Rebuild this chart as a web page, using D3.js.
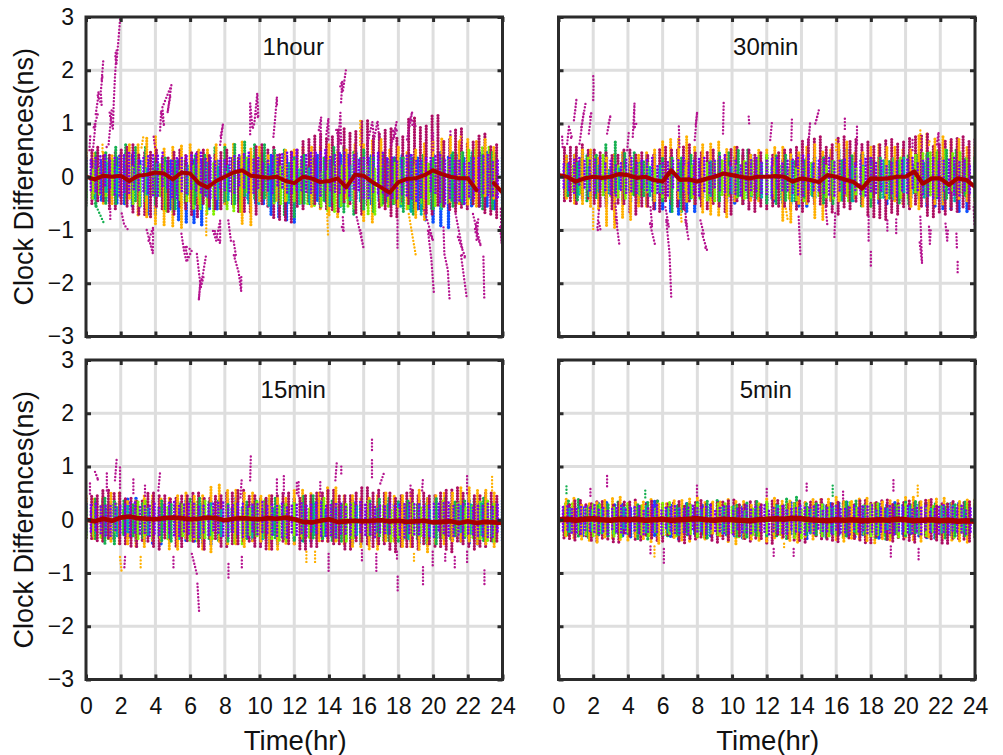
<!DOCTYPE html>
<html>
<head>
<meta charset="utf-8">
<script src="https://cdn.jsdelivr.net/npm/d3@7"></script>
<style>
body { margin: 0; background: #fff; }
svg { display: block; font-family: "Liberation Sans", Arial, sans-serif; }
</style>
</head>
<body>
<div id="chart"></div>
<script>
// values, in ns. the dots are too dense to read one by one, so
// cloud series run evenly over 0-24 hr and neighbouring values give the extent of the streak at that time
const titles = ["1hour", "30min", "15min", "5min"];
const hourTicks = [0, 2, 4, 6, 8, 10, 12, 14, 16, 18, 20, 22, 24];
const nsTicks = [-3, -2, -1, 0, 1, 2, 3];
const seriesColors = ["#ad0a62", "#ffb000", "#0a50ff", "#14b050", "#00b0b0", "#80f000", "#7f00f0"];

// 1hour
const crimson1 = [.45,-.5,.55,-.45,.4,-.6,.5,-.55,.6,-.7,.45,-.75,.5,-.6,.35,-.7,.5,-.6,.45,-.75,.5,-.55,.4,-.6,.5,-.5,.35,-.65,.45,-.7,.6,-.55,.55,-.8,.45,-.85,.5,-.6,.7,-.5,.8,-.6,.75,-.65,.9,-.5,.85,-.7,1.05,-.55,.8,-.6,.9,-.75,.75,-.5,1.1,-.6,.95,-.7,1.15,-.55,.7,-.65,.9,-.6,.65,-.55,.8,-.7,.6,-.8,.75];
const orange1 = [.5,-.3,.45,-.5,.4,-.4,.6,-.75,.75,-.9,.55,-.95,.6,-.5,.5,-.4,.6,-.55,.65,-.9,.55,-.5,.4,-.45,.5,-.4,.55,-.6,.6,-.75,.5,-.4,.6,-.85,.7,-.5,.55,-.6,.5,-.8,.65,-.45,.75,-.5,.7,-.55,.7,-.4,.55,-.5];
const blue1 = [.35,-.4,.3,-.45,.35,-.5,.4,-.55,.3,-.7,.35,-.6,.3,-.85,.3,-.9,.35,-.6,.3,-.5,.35,-.4,.3,-.5,.4,-.75,.35,-.85,.3,-.5,.4,-.45,.35,-.55,.4,-.4,.45,-.5,.4,-.45,.35,-.5,.4,-.6,.35,-.85,.45,-.95,.4,-.5,.35,-.55,.45,-.6,.35,-.5];
const green1 = [.3,-.55,.45,-.5,.6,-.45,.55,-.5,.35,-.6,.3,-.5,.4,-.35,.55,-.5,.65,-.4,.6,-.45,.5,-.75,.4,-.5,.35,-.45,.55,-.7,.5,-.65,.4,-.5,.35,-.7,.4,-.6,.35,-.55,.45,-.5,.4,-.6,.5,-.65];
const teal1 = [.2,-.4,.25,-.3,.2,-.4,.15,-.35,.25,-.3,.2,-.35,.25,-.4,.2,-.45,.3,-.5,.2,-.55,.25,-.5,.15,-.5,.3,-.55,.2,-.45,.35,-.4,.3,-.55,.35,-.7,.25,-.6,.4,-.45,.45,-.35,.4,-.5,.35];
const lime1 = [.2,-.4,.15,-.35,.3,-.35,.4,-.5,.2,-.55,.15,-.35,.25,-.65,.1,-.45,.2,-.6,.15,-.7,.25,-.6,.1,-.65,.35,-.3,.4,-.35,.3,-.5,.2,-.45,.3,-.5,.2,-.55,.1,-.65,.2,-.55,.15,-.6,.2,-.7,.15,-.55,.25,-.5,.15,-.6,.2,-.5,.25,-.55,.3,-.5,.45,-.4,.5,-.35,.55,-.3,.45,-.3];
const purple1 = [.3,-.25,.35,-.3,.4,-.2,.35,-.35,.4,-.3,.45,-.25,.35,-.3,.4,-.35,.45,-.2,.3,-.4,.35,-.3,.4,-.25,.45,-.35,.35,-.4,.3,-.25,.35,-.3,.4,-.2,.45,-.3,.35,-.25,.3,-.3,.4,-.2,.45,-.3,.5,-.25,.4,-.3,.45,-.35,.5,-.25,.4,-.3,.45,-.35,.4,-.25,.35,-.4,.4,-.3,.45,-.35,.35,-.4,.3,-.35,.4,-.45,.3,-.4,.35,-.3,.4,-.5,.35,-.45,.3,-.5,.25,-.4,.35,-.3,.4,-.35,.3,-.4,.35];
const mean1 = [0,-.05,.02,0,.02,-.08,.02,.04,.08,.06,-.05,.08,.06,-.12,-.2,-.08,0,.08,.12,.02,0,-.02,0,-.08,-.12,0,-.03,-.1,-.08,-.03,-.2,.04,.02,-.1,-.2,-.3,-.1,-.04,-.03,.03,.12,.05,0,-.03,-.03,-.25,null,-.12,-.3];

// 30min
const crimson2 = [.45,-.45,.55,-.5,.6,-.4,.5,-.55,.45,-.6,.4,-.5,.5,-.7,.45,-.55,.4,-.65,.55,-.5,.5,-.6,.6,-.5,.45,-.6,.5,-.55,.4,-.7,.55,-.5,.5,-.65,.45,-.6,.4,-.55,.5,-.6,.55,-.65,.7,-.5,.75,-.55,.6,-.7,.75,-.6,.7,-.5,.65,-.75,.6,-.8,.7,-.7,.65,-.6,.75,-.55,.8,-.75,.6,-.7,.7,-.65,.75,-.6,.7,-.55];
const orange2 = [.45,-.4,.4,-.5,.5,-.6,.35,-.95,.45,-.8,.4,-.55,.5,-.45,.7,-.4,.75,-.5,.6,-.7,.65,-.75,.55,-.5,.4,-.45,.5,-.4,.55,-.85,.45,-.5,.6,-.8,.5,-.45,.65,-.4,.45,-.55,.6,-.4,.55,-.5,.5,-.6,.8,-.5,.75,-.55,.7,-.45,.55,-.5];
const blue2 = [.3,-.35,.4,-.4,.45,-.4,.35,-.5,.4,-.45,.3,-.5,.4,-.6,.35,-.7,.3,-.65,.35,-.4,.3,-.45,.35,-.5,.4,-.4,.35,-.45,.3,-.5,.4,-.55,.35,-.4,.4,-.45,.5,-.35,.4,-.4,.35,-.5,.3,-.45,.35,-.4,.4,-.55,.35,-.6,.3,-.65,.35,-.4];
const green2 = [.3,-.35,.25,-.45,.4,-.4,.65,-.3,.45,-.35,.3,-.45,.35,-.65,.4,-.4,.3,-.45,.45,-.35,.5,-.4,.35,-.5,.4,-.45,.3,-.4,.35,-.5,.3,-.45,.4,-.55,.35,-.4,.3,-.5,.4,-.35,.45,-.4,.5,-.35,.35,-.45];
const teal2 = [.2,-.3,.25,-.35,.2,-.3,.15,-.25,.25,-.35,.2,-.3,.25,-.4,.2,-.35,.3,-.3,.2,-.35,.25,-.4,.2,-.45,.3,-.35,.25,-.3,.3,-.45,.2,-.35,.3,-.4,.35,-.3,.25,-.4,.3,-.45,.25,-.35,.3];
const lime2 = [.15,-.35,.2,-.3,.35,-.25,.4,-.35,.2,-.4,.15,-.35,.25,-.3,.15,-.4,.3,-.25,.2,-.4,.25,-.45,.3,-.35,.2,-.4,.3,-.35,.4,-.3,.2,-.4,.15,-.45,.25,-.35,.2,-.4,.3,-.45,.15,-.35,.2,-.4,.3,-.35,.35,-.4,.4,-.3,.45,-.35,.5,-.25,.45,-.3,.35,-.35];
const purple2 = [.3,-.2,.25,-.3,.35,-.2,.3,-.3,.35,-.25,.3,-.35,.25,-.3,.35,-.3,.3,-.25,.35,-.3,.25,-.35,.3,-.25,.35,-.3,.3,-.35,.35,-.3,.3,-.25,.4,-.3,.3,-.35,.25,-.25,.35,-.3,.3,-.35,.35,-.25,.3,-.3,.35,-.35,.4,-.25,.3,-.3,.35,-.35,.3,-.3,.35,-.25,.3,-.35,.35,-.3,.3,-.3,.25,-.35,.3,-.3,.35,-.25,.3,-.35,.35,-.4,.3,-.3,.35,-.35,.3,-.3,.25,-.35];
const mean2 = [.03,0,-.09,-.03,0,-.02,0,.05,.03,-.02,0,-.06,-.09,.12,-.06,-.05,-.09,-.04,0,.06,.03,0,-.03,0,0,.01,0,-.09,-.03,-.06,-.1,.03,0,-.05,-.1,-.22,-.03,-.04,-.03,0,0,.1,-.13,-.03,-.03,-.15,-.03,-.06,-.19];

// 15min
const crimson3 = [.4,-.35,.45,-.4,.55,-.35,.5,-.45,.4,-.5,.35,-.4,.5,-.55,.45,-.35,.4,-.5,.45,-.4,.5,-.55,.4,-.35,.45,-.5,.5,-.45,.55,-.4,.45,-.5,.4,-.55,.45,-.4,.5,-.45,.4,-.55,.45,-.5,.5,-.4,.55,-.45,.45,-.55,.5,-.4,.6,-.5,.55,-.45,.5,-.6,.45,-.5,.55,-.55,.5,-.45,.45,-.5,.55,-.6,.6,-.45,.5,-.55,.45,-.5,.5,-.4,.45,-.55];
const orange3 = [.45,-.35,.4,-.4,.5,-.45,.35,-.5,.45,-.4,.4,-.55,.5,-.35,.45,-.6,.65,-.45,.55,-.5,.5,-.4,.45,-.55,.4,-.45,.55,-.35,.5,-.4,.6,-.45,.45,-.5,.4,-.55,.5,-.4,.45,-.5,.55,-.6,.45,-.45,.5,-.4,.6,-.45,.55,-.5,.5,-.55];
const blue3 = [.3,-.3,.35,-.35,.3,-.3,.4,-.4,.35,-.45,.3,-.35,.35,-.4,.3,-.45,.35,-.35,.4,-.3,.3,-.4,.35,-.45,.3,-.35,.4,-.4,.35,-.3,.3,-.35,.35,-.45,.3,-.4,.35,-.35,.3,-.4,.35,-.45,.4,-.35,.3,-.4,.35,-.45,.3,-.35,.35,-.4];
const green3 = [.3,-.35,.4,-.45,.35,-.3,.3,-.35,.35,-.4,.3,-.3,.4,-.35,.35,-.4,.3,-.35,.35,-.3,.4,-.35,.3,-.4,.45,-.35,.35,-.4,.3,-.35,.35,-.3,.4,-.4,.35,-.35,.3,-.45,.4,-.3,.35,-.35,.4,-.4,.3,-.35];
const teal3 = [.25,-.25,.2,-.3,.25,-.25,.2,-.3,.25,-.35,.2,-.25,.3,-.3,.2,-.25,.25,-.35,.2,-.3,.25,-.25,.3,-.3,.2,-.35,.25,-.3,.2,-.25,.3,-.35,.25,-.3,.2,-.35,.25,-.25,.3,-.3,.2,-.35];
const lime3 = [.2,-.3,.25,-.35,.3,-.25,.2,-.35,.35,-.3,.2,-.35,.25,-.3,.3,-.4,.35,-.35,.25,-.3,.3,-.45,.2,-.3,.35,-.35,.25,-.4,.3,-.3,.2,-.35,.4,-.3,.25,-.4,.3,-.35,.35,-.3,.25,-.4,.2,-.35,.3,-.3,.25,-.4,.35,-.35,.3,-.3,.25,-.35,.35,-.4,.3,-.3];
const purple3 = [.28,-.22,.3,-.25,.26,-.3,.3,-.24,.28,-.3,.32,-.26,.25,-.3,.3,-.28,.27,-.24,.33,-.3,.28,-.26,.3,-.32,.26,-.28,.3,-.24,.32,-.3,.27,-.26,.3,-.32,.28,-.27,.33,-.24,.28,-.3,.3,-.33,.26,-.28,.31,-.3,.28,-.24,.32,-.3,.27,-.33,.3,-.26,.28,-.3,.33,-.28,.29,-.32,.26,-.25,.3,-.3,.28,-.33,.31,-.27,.29,-.3,.26,-.32,.3,-.25,.32,-.3,.28,-.33,.3,-.27,.26,-.3,.3,-.32,.28,-.26,.3];
const mean3 = [0,-.03,.02,-.02,.04,.06,.03,.02,.01,.03,.04,.03,.01,.02,.04,.03,-.01,.02,.03,.02,.01,.03,.02,.04,.01,-.04,-.05,-.02,.01,-.04,-.03,-.02,-.03,-.02,-.01,-.03,-.02,-.04,-.03,-.02,-.05,-.04,-.03,-.06,-.03,-.06,-.04,-.05,-.06];

// 5min
const crimson4 = [.32,-.34,.28,-.38,.36,-.3,.3,-.4,.34,-.36,.27,-.42,.33,-.3,.37,-.38,.29,-.34,.35,-.4,.3,-.32,.34,-.43,.28,-.36,.36,-.34,.3,-.42,.33,-.38,.37,-.3,.28,-.4,.34,-.35,.3,-.44,.36,-.32,.29,-.38,.35,-.42,.33,-.3,.38,-.36,.3,-.41,.34,-.34,.28,-.38,.36,-.43,.32,-.33,.37,-.4,.3,-.36,.35,-.42,.33,-.32,.38,-.38,.3,-.44,.34,-.35,.32,-.4,.36,-.37];
const orange4 = [.34,-.3,.4,-.36,.3,-.42,.36,-.34,.42,-.38,.32,-.35,.38,-.44,.3,-.33,.36,-.4,.41,-.36,.33,-.3,.38,-.45,.34,-.36,.3,-.4,.4,-.34,.35,-.42,.32,-.36,.38,-.3,.42,-.4,.34,-.35,.4,-.43,.33,-.38,.36,-.32,.42,-.4,.36,-.35,.4,-.38,.34,-.42,.38,-.34];
const blue4 = [.26,-.26,.3,-.3,.24,-.28,.32,-.25,.28,-.32,.25,-.27,.34,-.3,.27,-.36,.3,-.26,.26,-.3,.33,-.28,.28,-.34,.24,-.27,.3,-.3,.27,-.26,.32,-.35,.26,-.3,.3,-.27,.33,-.32,.25,-.28,.29,-.36,.32,-.26,.27,-.3,.3,-.34,.26,-.28,.31,-.3,.28,-.26];
const green4 = [.3,-.28,.38,-.33,.26,-.3,.33,-.26,.28,-.36,.35,-.3,.26,-.28,.32,-.34,.36,-.28,.27,-.32,.34,-.3,.28,-.35,.42,-.28,.3,-.33,.26,-.3,.35,-.27,.3,-.36,.27,-.3,.34,-.28,.3,-.34,.28,-.3,.36,-.33];
const teal4 = [.2,-.22,.24,-.2,.18,-.25,.22,-.2,.25,-.24,.2,-.27,.23,-.2,.18,-.25,.24,-.22,.2,-.26,.26,-.2,.22,-.24,.19,-.25,.23,-.21,.25,-.26,.2,-.22,.24,-.27,.2,-.23,.25,-.2,.22,-.25];
const lime4 = [.24,-.28,.3,-.24,.2,-.3,.28,-.26,.22,-.32,.3,-.25,.26,-.3,.2,-.27,.32,-.3,.25,-.26,.28,-.33,.22,-.28,.3,-.24,.26,-.32,.2,-.3,.33,-.26,.25,-.28,.3,-.34,.22,-.25,.28,-.3,.24,-.33,.32,-.26,.26,-.3,.3,-.28,.22,-.32,.28,-.25,.32,-.3,.25,-.27,.3,-.33,.24,-.28,.3,-.3];
const purple4 = [.22,-.2,.25,-.24,.2,-.26,.24,-.21,.27,-.25,.22,-.27,.2,-.22,.26,-.25,.23,-.2,.25,-.27,.21,-.23,.27,-.26,.22,-.2,.25,-.25,.2,-.27,.26,-.22,.23,-.26,.27,-.21,.22,-.25,.25,-.27,.2,-.23,.26,-.25,.24,-.2,.27,-.27,.22,-.24,.25,-.26,.2,-.22,.26,-.27,.23,-.25,.27,-.21,.22,-.26,.25,-.24,.2,-.27,.26,-.22,.24,-.25,.27,-.26,.21,-.23,.25,-.27,.23,-.21,.26,-.25,.22,-.27,.25,-.23,.2,-.26,.27,-.24,.23,-.22,.26,-.26,.21,-.25,.25];
const mean4 = [0,.01,-.01,.01,.02,0,-.01,.01,0,.01,-.01,0,.01,-.01,0,.01,.02,0,-.01,.01,0,-.01,-.02,0,.01,.02,.01,.03,.02,0,-.01,-.02,0,-.01,0,-.02,-.01,0,-.01,.01,0,-.02,-.01,0,-.02,-.01,-.03,-.02,-.03];

// excursions away from the main cloud, [hr, ns] along each run
const magenta1 = [
  [[.2,.5],[.25,.8]], [[.4,.5],[.55,1],[.42,.9],[.7,1.2],[.55,1.15],[.75,1.6],[.65,1.55],[.9,1.35],[.85,1.6],[.95,1.9],[.9,1.8],[1,2.2]], [[1.19,.56],[1.3,.6],[1.48,1.25],[1.35,1.2],[1.55,.9],[1.6,1.4],[1.67,1.88],[1.77,2.38],[1.68,2.3],[1.75,2.1],[1.96,2.94],[2,3.1]],
  [[4.27,.87],[4.33,1.24],[4.5,.95],[4.4,1.3],[4.92,1.72],[4.7,1.2],[4.85,1.5]], [[3.9,.75],[4,.5]], [[7.73,.6],[7.9,1],[7.75,.75]], [[9.46,.8],[9.46,1.38],[9.6,.9],[9.7,1],[9.87,1.57],[9.93,1.1],[9.8,1.2]], [[10.8,.75],[10.9,1.1],[11,1.5],[11,1.35]],
  [[13.5,.6],[13.55,1.12],[13.4,.85]], [[13.97,.7],[13.97,1.1],[13.85,.8]], [[14.5,.5],[14.66,1.2],[14.7,.6],[14.4,.9]], [[14.7,1.4],[14.77,1.8],[14.65,1.7],[14.8,1.6],[15,2.06]], [[16.2,.6],[16.5,1.03],[16.6,.7],[16.8,1.05],[16.9,.7]], [[17.6,.6],[17.9,1.03],[17.7,.7],[17.95,.9],[17.6,.85]], [[18.5,.7],[18.8,1.22],[18.6,1],[19,.95],[18.7,1.1]], [[20,.5],[20,.85],[19.9,.7]], [[21,.85],[21,.75]],
  [[1.4,-.6],[1.4,-.85]], [[2.06,-.69],[2.2,-.9],[2.43,-1]], [[3.5,-1],[3.85,-1.44],[3.87,-.95],[3.6,-1.2],[3.8,-1.3]], [[5.5,-1.07],[5.65,-1.4],[5.8,-1.6],[6.1,-1.38],[5.7,-1.3],[5.9,-1.55]],
  [[6.39,-1.45],[6.58,-2],[6.5,-2.32],[6.6,-1.95],[6.77,-1.88],[6.6,-2.1],[6.93,-1.45]], [[7.44,-1.07],[7.73,-1.25],[7.73,-.82],[7.5,-1.2],[7.3,-1],[7.6,-1.05]], [[8.2,-.82],[8.35,-1.2],[8.5,-1.2],[8.65,-1.5],[8.5,-1.45],[8.8,-1.8],[8.94,-2.15],[8.95,-1.85]],
  [[14.8,-.76],[14.85,-1.04],[14.7,-.9]], [[15.6,-.76],[16,-1.35],[15.8,-1],[15.9,-1.1]], [[17.95,-.82],[17.95,-1.38]], [[19.5,-.63],[20,-1.2],[19.7,-1],[19.9,-1.55],[20.05,-2.2]], [[20.6,-.95],[20.65,-1.45],[20.85,-1.75],[20.95,-2.3]], [[21.3,-.7],[21.7,-1.38],[21.4,-1.1],[21.87,-1.53],[21.6,-1.45],[21.93,-2.25]], [[22.3,-.7],[22.75,-1.3],[22.4,-1],[22.6,-.8],[22.5,-1.2]], [[22.9,-1.5],[22.95,-2.28]], [[23.9,-.6],[23.95,-1.25],[23.85,-.9]]
];
const amber1 = [[[.95,.6],[.95,.45]], [[3.2,.55],[3.3,.75]], [[6.93,-.65],[6.93,-1.1]], [[13.9,-.7],[13.95,-1.13]], [[15.8,.6],[15.8,1.1]], [[18.6,-.7],[19,-1.47]], [[21.5,.5],[21.6,.8]]];
const emerald1 = [[[.52,-.5],[1.04,-.88]]];
const magenta2 = [
  [[.21,.75],[.25,.5]], [[.5,.62],[.6,.94],[.79,.72],[.65,.75]], [[.89,1.06],[1.04,1.47],[.95,1.2]], [[1.21,.62],[1.46,1.22],[1.3,.9],[1.56,1.38]], [[1.75,.81],[1.9,1.22],[1.8,1.1]], [[2,1.44],[2.02,1.72],[2,1.91]],
  [[2.33,-.63],[2.23,-1],[2.42,-1],[2.3,-.8]], [[2.8,.81],[3,1.16],[2.85,.95]], [[3.28,-.5],[3.38,-.88],[3.3,-.75],[3.5,-1.26]], [[3.96,.5],[4.05,.84]], [[4.28,.75],[4.38,1.38],[4.35,.9],[4.53,1.03]], [[5.3,-.57],[5.4,-.94],[5.25,-.85],[5.55,-1.26]],
  [[6.16,-.57],[6.36,-.94],[6.2,-.8],[6.4,-1.44],[6.5,-2.3]], [[6.97,.56],[6.93,1]], [[7.22,-.44],[7.41,-.94],[7.3,-.8],[7.5,-1.19]], [[7.85,.69],[7.99,1.22],[7.9,.95]], [[8.18,-.82],[8.37,-1.07],[8.25,-1.05],[8.56,-1.38],[8.4,-1.3]], [[9.48,.81],[9.52,1.41]], [[10.96,1.13],[11,.94]],
  [[12.2,.69],[12.3,1.03]], [[13.42,.69],[13.45,1.09]], [[14.4,.62],[14.5,1.03],[14.45,.8]], [[14.8,1],[15,1.25],[14.85,1.05]], [[13.84,-.75],[13.94,-1.48]], [[15.4,-.57],[15.5,-.94]], [[15.9,-1.13],[15.95,-.63]], [[16.5,1.09],[16.5,.87]], [[17.2,.62],[17.2,.94]],
  [[17.87,-.75],[17.87,-1.22]], [[18,-1.41],[18,-1.7]], [[18.95,-.82],[18.95,-1.07]], [[19.46,-.8],[19.46,-1.07]], [[20.85,-.75],[20.95,-1.63],[20.8,-1.2]], [[21.35,-.94],[21.4,-1.26],[21.45,-1]], [[22.3,-.88],[22.4,-1.2],[22.45,-.95]], [[22.93,-1.07],[22.96,-1.38]], [[23,-1.6],[23,-1.85]], [[23.92,-.57],[23.97,-.91]], [[20.4,.5],[20.4,.7]], [[21.9,.5],[21.9,.84],[21.8,.6]]
];
const amber2 = [[[2,-.6],[2,-1]], [[3.2,-.65],[3.25,-.88]], [[7.05,-.65],[7.1,-.9]], [[13.1,-.6],[13.2,-.8]], [[20.85,.55],[20.85,.9]], [[21.35,.6],[21.4,.72]], [[16,.5],[16,.72]]];
const magenta3 = [
  [[.23,.49],[.23,.74]], [[.52,.9],[.71,.74],[.6,.8]], [[1.2,.55],[1.2,.93]], [[1.67,.74],[1.77,1.15]], [[1.96,.6],[1.96,.99]], [[2.73,.5],[2.73,.8]], [[3.4,.45],[3.4,.67]], [[4.17,.55],[4.27,.9]],
  [[8.9,.42],[8.98,.8]], [[9.46,.74],[9.5,1.24]], [[11,.5],[11,.8]], [[11.4,.5],[11.4,.83]], [[12.15,.5],[12.15,.74]], [[12.25,.45],[12.25,.74]], [[13.5,.45],[13.5,.71]], [[14.37,.74],[14.46,1.12]], [[14.71,.87],[14.71,1.06]],
  [[16.48,.8],[16.48,1.15]], [[16.48,1.31],[16.48,1.53]], [[16.96,.68],[17.19,.9]], [[18.7,.45],[18.7,.68]], [[19.37,.55],[19.42,.8]], [[21.96,.5],[21.96,.84]],
  [[2.25,-.7],[2.2,-.95]], [[5.04,-.7],[5.04,-.92]], [[6.1,-.64],[6.39,-1.02]], [[6.42,-1.2],[6.52,-1.74]], [[8.21,-.83],[8.21,-1.14]], [[8.98,-.7],[8.98,-.95]], [[13.98,-.64],[13.98,-1.01]], [[15.9,-.57],[15.9,-.82]], [[16.73,-.64],[16.73,-.98]], [[17.92,-.6],[17.92,-.76]], [[17.96,-1.07],[17.96,-1.36]], [[19.42,-.89],[19.42,-1.23]], [[19.98,-.6],[19.98,-.86]], [[20.7,-.64],[20.7,-.82]], [[21.25,-.7],[21.25,-.92]], [[21.96,-.6],[21.96,-.82]], [[22.96,-.95],[22.96,-1.25]]
];
const amber3 = [[[1.96,-.7],[2.06,-1]], [[3.15,-.7],[3.15,-.92]], [[12.7,-.6],[12.7,-.8]], [[13.2,-.6],[13.2,-.82]], [[18.9,-.64],[18.9,-.82]], [[23.4,.55],[23.4,.84]]];
const magenta4 = [
  [[2.8,.63],[2.8,.84]], [[1.84,.45],[1.84,.62]], [[7.98,.45],[7.98,.65]], [[14.3,.55],[14.3,.74]], [[16.4,.4],[16.4,.55]], [[19.3,.55],[19.3,.75]], [[12,.45],[12,.62]],
  [[6.07,-.55],[6.07,-.85]], [[5.3,-.5],[5.3,-.65]], [[20.75,-.55],[20.75,-.76]], [[19.15,-.5],[19.15,-.7]], [[13.55,-.55],[13.55,-.73]], [[12.4,-.55],[12.4,-.72]]
];
const amber4 = [[[5.53,-.5],[5.53,-.7]], [[20.7,.45],[20.7,.68]], [[13,-.45],[13,-.55]]];
const emerald4 = [[[.46,.5],[.46,.65]], [[5,.42],[5,.6]], [[15.8,.45],[15.8,.68]]];

const cloud1 = [crimson1, orange1, blue1, green1, teal1, lime1, purple1];
const cloud2 = [crimson2, orange2, blue2, green2, teal2, lime2, purple2];
const cloud3 = [crimson3, orange3, blue3, green3, teal3, lime3, purple3];
const cloud4 = [crimson4, orange4, blue4, green4, teal4, lime4, purple4];

const panels = [
  { title: titles[0], x0: 86, y0: 17, cloud: cloud1, mean: mean1, magenta: magenta1, amber: amber1, emerald: emerald1, meanW: 4 },
  { title: titles[1], x0: 558.5, y0: 17, cloud: cloud2, mean: mean2, magenta: magenta2, amber: amber2, emerald: [], meanW: 4.2 },
  { title: titles[2], x0: 86, y0: 360, cloud: cloud3, mean: mean3, magenta: magenta3, amber: amber3, emerald: [], meanW: 4.6 },
  { title: titles[3], x0: 558.5, y0: 360, cloud: cloud4, mean: mean4, magenta: magenta4, amber: amber4, emerald: emerald4, meanW: 5.5 }
];

const width = 416.5, height = 319.5;
const svg = d3.select("#chart").append("svg").attr("width", 1003).attr("height", 755);

// the reference is a little soft, dots run together
svg.append("filter").attr("id", "soft").append("feGaussianBlur").attr("stdDeviation", 0.35);

const xScale = d3.scaleLinear().domain([0, 24]).range([0, width]);
const yScale = d3.scaleLinear().domain([-3, 3]).range([height, 0]);

function streaksOf(vals, color) {
  return d3.pairs(vals).map(function (pair, k) {
    return { t: k * 24 / (vals.length - 2), a: pair[0], b: pair[1], color: color };
  });
}

panels.forEach(function (p, idx) {
  const g = svg.append("g").attr("transform", `translate(${p.x0},${p.y0})`);
  const clipId = "clip" + idx;
  g.append("clipPath").attr("id", clipId).append("rect").attr("width", width).attr("height", height);

  // grid
  g.selectAll(".vgrid").data(hourTicks.slice(1, -1)).enter().append("line")
    .attr("x1", d => xScale(d)).attr("x2", d => xScale(d))
    .attr("y1", 0).attr("y2", height)
    .attr("stroke", "#dedede").attr("stroke-width", 3);
  g.selectAll(".hgrid").data(nsTicks.slice(1, -1)).enter().append("line")
    .attr("y1", d => yScale(d)).attr("y2", d => yScale(d))
    .attr("x1", 0).attr("x2", width)
    .attr("stroke", "#dedede").attr("stroke-width", 3);

  const plot = g.append("g").attr("clip-path", `url(#${clipId})`)
    .append("g").attr("filter", "url(#soft)");
  const run = d3.line().x(d => xScale(d[0])).y(d => yScale(d[1]));

  // main cloud: blue lowest, most series mixed in time order, purple on top
  const mixed = d3.merge([0, 1, 3, 4, 5].map(i => streaksOf(p.cloud[i], seriesColors[i])))
    .sort((u, v) => u.t - v.t);
  const layers = [
    [streaksOf(p.cloud[2], seriesColors[2]), 3.6, "0 2.8"],
    [mixed, 3.2, "0 2.8"],
    [streaksOf(p.cloud[6], seriesColors[6]), 2.7, "0 3.3"]
  ];
  layers.forEach(function (layer) {
    plot.selectAll(null).data(layer[0]).enter().append("path")
      .attr("d", d => run([[d.t, d.a], [d.t, d.b]]))
      .attr("fill", "none").attr("stroke", d => d.color)
      .attr("stroke-width", layer[1]).attr("stroke-linecap", "round")
      .attr("stroke-dasharray", layer[2]);
  });

  // runs outside the cloud
  [[p.amber, "#ffb000"], [p.emerald, "#14b050"], [p.magenta, "#b5128f"]].forEach(function (set) {
    plot.selectAll(null).data(set[0]).enter().append("path")
      .attr("d", run)
      .attr("fill", "none").attr("stroke", set[1])
      .attr("stroke-width", 2.4).attr("stroke-linecap", "round")
      .attr("stroke-dasharray", "0 3.4");
  });

  // mean track
  const meanLine = d3.line()
    .defined(d => d !== null)
    .x((d, k) => xScale(k / 2))
    .y(d => yScale(d));
  plot.append("path").attr("d", meanLine(p.mean))
    .attr("fill", "none").attr("stroke", "#a80000")
    .attr("stroke-width", p.meanW).attr("stroke-linejoin", "round").attr("stroke-linecap", "round");

  // box and ticks, labels only on the outer side
  const bottom = d3.axisBottom(xScale).tickValues(hourTicks).tickSize(-5).tickPadding(18.5)
    .tickFormat(idx > 1 ? d3.format("d") : "");
  const left = d3.axisLeft(yScale).tickValues(nsTicks).tickSize(-5).tickPadding(12)
    .tickFormat(idx % 2 === 0 ? d3.format("d") : "");
  const top = d3.axisTop(xScale).tickValues(hourTicks).tickSize(-5).tickFormat("");
  const right = d3.axisRight(yScale).tickValues(nsTicks).tickSize(-5).tickFormat("");

  [[bottom, 0, height], [left, 0, 0], [top, 0, 0], [right, width, 0]].forEach(function (a) {
    const ax = g.append("g").attr("transform", `translate(${a[1]},${a[2]})`).call(a[0]);
    ax.select(".domain").remove();
    ax.selectAll(".tick line").attr("stroke", "#2b2b2b").attr("stroke-width", 3);
    ax.selectAll("text").attr("fill", "#111").style("font-size", "23px")
      .style("font-family", '"Liberation Sans", Arial, sans-serif');
  });

  g.append("rect").attr("width", width).attr("height", height)
    .attr("fill", "none").attr("stroke", "#2b2b2b").attr("stroke-width", 3);

  g.append("text").attr("x", width / 2 - 1).attr("y", 38)
    .attr("text-anchor", "middle").style("font-size", "24px").attr("fill", "#111")
    .text(p.title);

  if (idx > 1) {
    g.append("text").attr("x", width / 2 + 1).attr("y", height + 70)
      .attr("text-anchor", "middle").style("font-size", "27.5px").attr("fill", "#111")
      .text("Time(hr)");
  }
  if (idx % 2 === 0) {
    g.append("text")
      .attr("transform", `translate(-53,${height / 2}) rotate(-90)`)
      .attr("text-anchor", "middle").style("font-size", "27px").attr("fill", "#111")
      .text("Clock Differences(ns)");
  }
});
</script>
</body>
</html>
